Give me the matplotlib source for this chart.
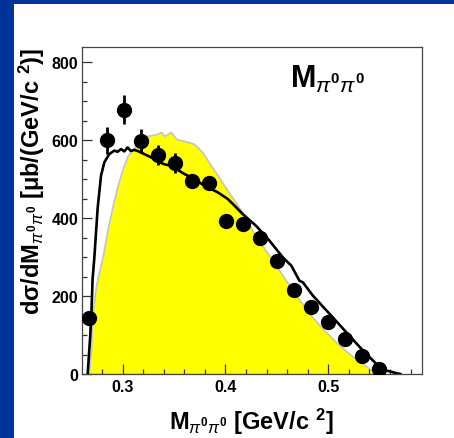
import matplotlib
matplotlib.use("Agg")
import matplotlib.pyplot as plt
from matplotlib.ticker import MultipleLocator, FixedLocator
from matplotlib.patches import Rectangle

plt.rcParams['font.family'] = ['Liberation Sans', 'DejaVu Sans']
plt.rcParams['mathtext.fontset'] = 'custom'
plt.rcParams['mathtext.rm'] = 'Liberation Sans:bold'
plt.rcParams['mathtext.bf'] = 'Liberation Sans:bold'
plt.rcParams['mathtext.it'] = 'Liberation Sans:italic'
plt.rcParams['mathtext.sf'] = 'Liberation Sans:bold'

# ---- data ----
data_x = [0.2676, 0.2844, 0.3010, 0.3179, 0.3344, 0.3506, 0.3672, 0.3838, 0.4003,
          0.4169, 0.4334, 0.4500, 0.4665, 0.4831, 0.4996, 0.5162, 0.5327, 0.5493]
data_y = [144, 599, 678, 597, 561, 541, 494, 489, 393,
          385, 350, 289, 215, 171, 134, 89, 47, 13]
data_err = [15, 34, 37, 31, 26, 25, 18, 18, 16, 15, 14, 13, 11, 10, 9, 8, 6, 5]

model_x = [0.2660, 0.2685, 0.2697, 0.2708, 0.2724, 0.2757, 0.2790, 0.2822, 0.2870, 0.2919,
           0.2951, 0.2984, 0.3016, 0.3049, 0.3080, 0.3114, 0.3146, 0.3195, 0.3276, 0.3341,
           0.3406, 0.3471, 0.3520, 0.3601, 0.3698, 0.3795, 0.3925, 0.4022, 0.4088, 0.4168,
           0.4298, 0.4428, 0.4558, 0.4640, 0.4720, 0.4753, 0.4850, 0.5013, 0.5175, 0.5337,
           0.5467, 0.5565, 0.5662, 0.5700]
model_y = [0, 98, 160, 244, 295, 425, 509, 543, 564, 573,
           570, 577, 571, 581, 572, 575, 572, 566, 556, 545,
           538, 534, 526, 513, 500, 483, 466, 449, 432, 410,
           380, 342, 299, 278, 239, 235, 201, 154, 107, 60,
           26, 9, 2, 0]

phase_x = [0.2670, 0.2692, 0.2708, 0.2740, 0.2770, 0.2805, 0.2854, 0.2903, 0.2951, 0.3000,
           0.3049, 0.3114, 0.3179, 0.3244, 0.3325, 0.3374, 0.3406, 0.3471, 0.3520, 0.3601,
           0.3698, 0.3779, 0.3860, 0.3925, 0.4022, 0.4120, 0.4185, 0.4298, 0.4428, 0.4558,
           0.4688, 0.4818, 0.4950, 0.5078, 0.5208, 0.5337, 0.5402, 0.5467, 0.5500]
phase_y = [0, 60, 158, 225, 262, 300, 372, 432, 483, 526,
           560, 581, 598, 611, 615, 621, 611, 621, 603, 598,
           590, 568, 534, 509, 470, 432, 406, 350, 303, 252,
           201, 154, 115, 81, 51, 26, 13, 3, 0]

x_ticks = [0.3, 0.4, 0.5]
x_ticklabels = ['0.3', '0.4', '0.5']
y_ticks = [0, 200, 400, 600, 800]
y_ticklabels = ['0', '200', '400', '600', '800']

W, H = 454, 439
fig = plt.figure(figsize=(W / 100, H / 100), dpi=100)
fig.patch.set_facecolor('#003399')
fig.add_artist(Rectangle((14 / W, 0), 1 - 14 / W, 1 - 4.7 / H, transform=fig.transFigure,
                         facecolor='white', edgecolor='none', zorder=-10))

ax = fig.add_axes([81.7 / W, 64 / H, (422.3 - 81.7) / W, (375 - 48.3) / H])
ax.set_xlim(0.2602, 0.5914)
ax.set_ylim(0, 838)

ax.fill_between(phase_x, phase_y, 0, facecolor='#ffff00', edgecolor='#c4c4c4',
                linewidth=1.2, zorder=1)
ax.plot(model_x, model_y, color='black', lw=1.9, zorder=2)
ax.errorbar(data_x, data_y, yerr=data_err, fmt='o', color='black', ms=10,
            elinewidth=2.0, capsize=0, zorder=3)

for s in ax.spines.values():
    s.set_color('#444444')
    s.set_linewidth(0.9)

ax.xaxis.set_major_locator(FixedLocator(x_ticks))
ax.set_xticklabels(x_ticklabels)
ax.yaxis.set_major_locator(FixedLocator(y_ticks))
ax.set_yticklabels(y_ticklabels)
ax.xaxis.set_minor_locator(MultipleLocator(0.02))
ax.yaxis.set_minor_locator(MultipleLocator(50))
ax.tick_params(which='both', direction='in', top=False, right=False, color='#333333', width=0.9)
ax.tick_params(which='major', length=7.2)
ax.tick_params(which='minor', length=3.6)
ax.tick_params(axis='y', pad=2.5, labelsize=11.5)
ax.tick_params(axis='x', pad=3.5, labelsize=11.5)
for lab in ax.get_xticklabels() + ax.get_yticklabels():
    lab.set_fontweight('bold')

fig.text(290 / W, 1 - 88 / H, r'M$_{\pi^{0}\pi^{0}}$', fontsize=22, fontweight='bold',
         ha='left', va='baseline')
fig.text(251 / W, 1 - 430 / H, r'M$_{\pi^{0}\pi^{0}}$ [GeV/c $^{2}$]', fontsize=17,
         fontweight='bold', ha='center', va='baseline')
fig.text(32 / W, 1 - 48 / H, r'd$\mathrm{\sigma}$/dM$_{\pi^{0}\pi^{0}}$ [$\mathrm{\mu}$b/(GeV/c $^{2}$)]',
         fontsize=17, fontweight='bold', rotation=90, ha='center', va='top')

fig.savefig('out.png', dpi=100, facecolor=fig.get_facecolor())
